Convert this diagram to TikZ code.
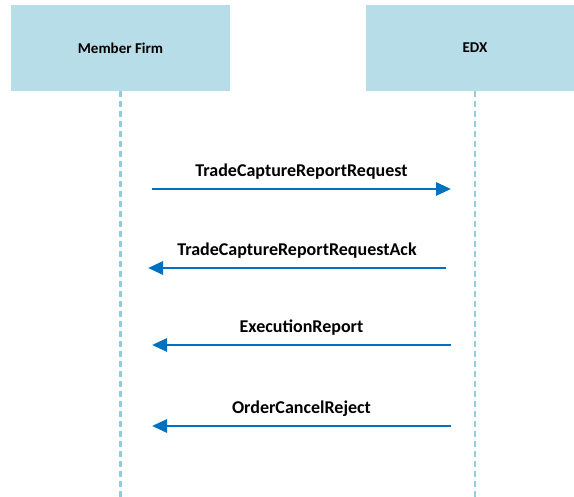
\documentclass[tikz,border=0pt]{standalone}
\usepackage{fontspec}
\setmainfont{Carlito}
\usetikzlibrary{arrows.meta}
\definecolor{boxblue}{HTML}{B7DDE8}
\definecolor{lineblue}{HTML}{93CDDD}
\definecolor{msgblue}{HTML}{0070C0}

\begin{document}
\begin{tikzpicture}[x=1pt, y=-1pt,
    actor/.style={fill=boxblue, minimum width=219pt, minimum height=86pt, inner sep=0pt,
      font=\bfseries\fontsize{15}{18}\selectfont},
    lifeline/.style={draw=lineblue, line width=2.8pt, dash pattern=on 6pt off 4pt},
    msg/.style={draw=msgblue, line width=2.8pt, -{Triangle[length=15pt, width=13pt]}},
    msglabel/.style={font=\bfseries\fontsize{18}{21}\selectfont, inner sep=0pt}]
  \useasboundingbox (0,0) rectangle (574,497);
  \clip (0,0) rectangle (574,497);
  % participants
  \node[actor] (firm) at (120.5,48) {Member Firm};
  \node[actor] (edx) at (475,48) {EDX};
  % lifelines down to the bottom edge
  \coordinate (bottom) at (0,497);
  \draw[lifeline] (firm.south) -- (firm.south |- bottom);
  \draw[lifeline] (edx.south) -- (edx.south |- bottom);
  % messages: y / start x / end x / text
  \foreach \y/\xa/\xb/\txt [count=\i] in {%
      189/152/451/TradeCaptureReportRequest,
      268/446/148/TradeCaptureReportRequestAck,
      345/451/152/ExecutionReport,
      426/451/152/OrderCancelReject} {
    \coordinate (m\i-start) at (\xa,\y);
    \coordinate (m\i-end) at (\xb,\y);
    \draw[msg] (m\i-start) -- (m\i-end)
      node[msglabel, pos=0.5, above=8pt] (l\i) {\txt};
  }
\end{tikzpicture}
\end{document}
